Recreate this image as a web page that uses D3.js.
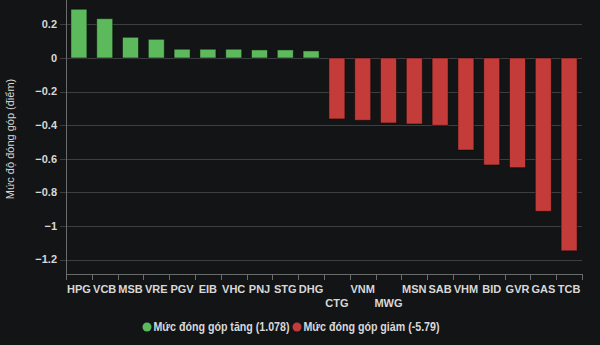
<!DOCTYPE html>
<html>
<head>
<meta charset="utf-8">
<script src="https://cdn.jsdelivr.net/npm/d3@7"></script>
<style>
  html, body { margin: 0; padding: 0; background: #131416; }
  svg { display: block; font-family: "Liberation Sans", Arial, sans-serif; }
</style>
</head>
<body>
<div id="chart"></div>
<script>
// tickers, left to right
const tickers = ['HPG', 'VCB', 'MSB', 'VRE', 'PGV', 'EIB', 'VHC', 'PNJ', 'STG', 'DHG',
    'CTG', 'VNM', 'MWG', 'MSN', 'SAB', 'VHM', 'BID', 'GVR', 'GAS', 'TCB'];
// contribution (points)
const contrib = [0.29, 0.234, 0.123, 0.111, 0.052, 0.052, 0.052, 0.048, 0.048, 0.042,
    -0.363, -0.371, -0.387, -0.393, -0.401, -0.548, -0.637, -0.653, -0.913, -1.148];
const yTicks = [0.2, 0, -0.2, -0.4, -0.6, -0.8, -1, -1.2];
// labels pushed to a second row
const lowered = ['CTG', 'MWG'];
const legendItems = [
    { label: 'Mức đóng góp tăng (1.078)', color: '#5cb95c' },
    { label: 'Mức đóng góp giảm (-5.79)', color: '#c33c3a' }
];

const W = 600, H = 345;
const plotLeft = 66, plotRight = 582, plotTop = 0, plotBottom = 274;

const svg = d3.select('#chart').append('svg')
    .attr('width', W).attr('height', H);

svg.append('rect').attr('width', W).attr('height', H).attr('fill', '#131416');

const x = d3.scaleBand().domain(tickers).range([plotLeft, plotRight]).paddingInner(0.38).paddingOuter(0.19);
const y = d3.scaleLinear().domain([-1.286, 0.345]).range([plotBottom, plotTop]);

// grid
svg.append('g')
    .selectAll('line')
    .data(yTicks)
    .join('line')
    .attr('x1', plotLeft - 6).attr('x2', plotRight)
    .attr('y1', d => Math.round(y(d)) + 0.5).attr('y2', d => Math.round(y(d)) + 0.5)
    .attr('stroke', '#3d3e40').attr('stroke-width', 1);

// y labels
svg.append('g')
    .selectAll('text')
    .data(yTicks)
    .join('text')
    .attr('x', 57).attr('y', d => y(d))
    .attr('dy', '0.35em')
    .attr('text-anchor', 'end')
    .attr('fill', '#d8d8d8')
    .attr('font-size', 11).attr('font-weight', 'bold')
    .text(d => d3.format('~g')(d));

// bars
svg.append('g')
    .selectAll('rect')
    .data(tickers.map((t, i) => ({ t, v: contrib[i] })))
    .join('rect')
    .attr('x', d => x(d.t))
    .attr('width', x.bandwidth())
    .attr('y', d => y(Math.max(0, d.v)))
    .attr('height', d => Math.abs(y(d.v) - y(0)))
    .attr('fill', d => d.v >= 0 ? legendItems[0].color : legendItems[1].color)
    .attr('stroke', 'rgba(0,0,0,0.45)')
    .attr('stroke-width', 1);

// axes lines
svg.append('line')
    .attr('x1', plotLeft + 0.5).attr('x2', plotLeft + 0.5)
    .attr('y1', plotTop).attr('y2', plotBottom + 6)
    .attr('stroke', '#6a6b6d');
svg.append('line')
    .attr('x1', plotLeft).attr('x2', plotRight)
    .attr('y1', plotBottom + 0.5).attr('y2', plotBottom + 0.5)
    .attr('stroke', '#6a6b6d');

svg.append('g')
    .selectAll('line')
    .data(d3.range(tickers.length + 1))
    .join('line')
    .attr('x1', i => Math.round(plotLeft + i * (plotRight - plotLeft) / tickers.length) + 0.5)
    .attr('x2', i => Math.round(plotLeft + i * (plotRight - plotLeft) / tickers.length) + 0.5)
    .attr('y1', plotBottom).attr('y2', plotBottom + 6)
    .attr('stroke', '#6a6b6d');

// x labels
svg.append('g')
    .selectAll('text')
    .data(tickers)
    .join('text')
    .attr('x', d => x(d) + x.bandwidth() / 2)
    .attr('y', d => lowered.includes(d) ? 303 : 289.5)
    .attr('dy', '0.35em')
    .attr('text-anchor', 'middle')
    .attr('fill', '#d8d8d8')
    .attr('font-size', 11).attr('font-weight', 'bold')
    .text(d => d);

// y title
svg.append('text')
    .attr('transform', 'translate(10,139) rotate(-90)')
    .attr('dy', '0.35em')
    .attr('text-anchor', 'middle')
    .attr('fill', '#d8d8d8')
    .attr('font-size', 11)
    .text('Mức độ đóng góp (điểm)');

// legend
const lg = svg.append('g');
let cursor = 147;
legendItems.forEach((it) => {
    lg.append('circle').attr('cx', cursor).attr('cy', 327).attr('r', 4.5).attr('fill', it.color);
    lg.append('text')
        .attr('x', cursor + 6.5).attr('y', 327).attr('dy', '0.35em')
        .attr('fill', '#d8d8d8')
        .attr('font-size', 12).attr('font-weight', 'bold')
        .attr('textLength', 136).attr('lengthAdjust', 'spacingAndGlyphs')
        .text(it.label);
    cursor += 6.5 + 136 + 7.5;
});
</script>
</body>
</html>
